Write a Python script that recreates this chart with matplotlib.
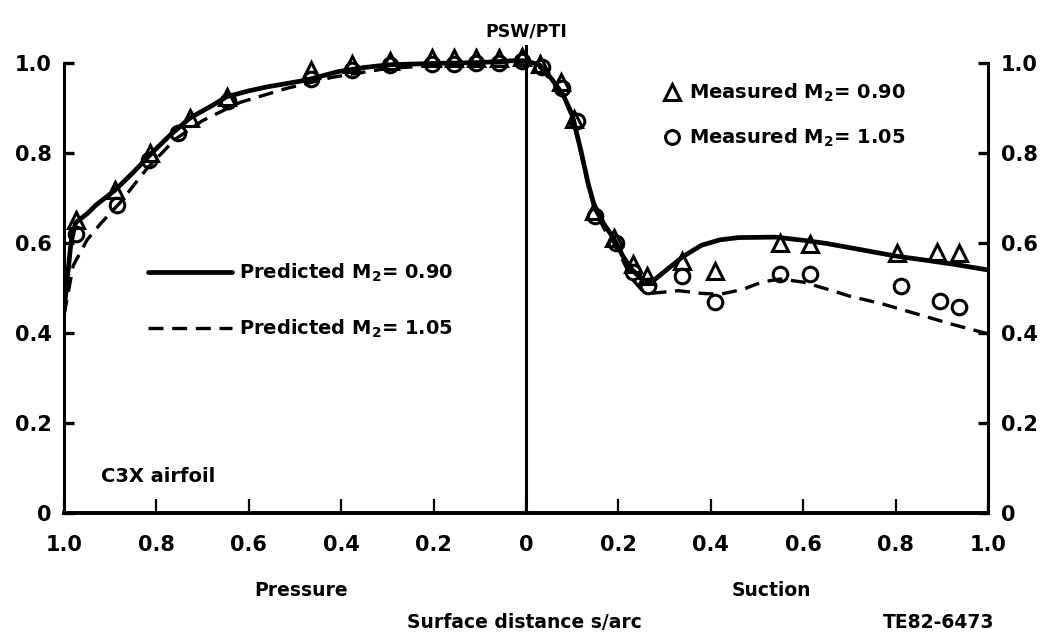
import matplotlib
matplotlib.use("Agg")
import matplotlib.pyplot as plt

plt.rcParams['font.family'] = ['DejaVu Sans']
plt.rcParams['font.weight'] = 'bold'
plt.rcParams['mathtext.fontset'] = 'custom'
plt.rcParams['mathtext.rm'] = 'DejaVu Sans:bold'
plt.rcParams['mathtext.it'] = 'DejaVu Sans:bold'
plt.rcParams['mathtext.bf'] = 'DejaVu Sans:bold'

# ---- data (x < 0: pressure side, x > 0: suction side) ----
pred090_x = [-1.0, -0.985, -0.975, -0.95, -0.93, -0.89, -0.85, -0.81, -0.77, -0.727,
             -0.68, -0.648, -0.60, -0.56, -0.514, -0.475, -0.406, -0.35, -0.297, -0.20,
             -0.10, -0.03, 0.0, 0.03, 0.055, 0.08, 0.10, 0.12, 0.135, 0.15, 0.17, 0.19,
             0.21, 0.23, 0.25, 0.265, 0.28, 0.31, 0.34, 0.38, 0.42, 0.46, 0.54, 0.60,
             0.65, 0.72, 0.80, 0.87, 0.93, 1.0]
pred090_y = [0.45, 0.60, 0.645, 0.665, 0.685, 0.717, 0.757, 0.80, 0.84, 0.878,
             0.905, 0.925, 0.938, 0.947, 0.955, 0.962, 0.981, 0.99, 0.996, 0.999,
             1.001, 1.005, 1.005, 0.995, 0.965, 0.93, 0.885, 0.80, 0.73, 0.675, 0.64, 0.61,
             0.57, 0.54, 0.52, 0.514, 0.52, 0.545, 0.57, 0.595, 0.607, 0.612, 0.613, 0.606,
             0.599, 0.586, 0.571, 0.561, 0.552, 0.54]

pred105_x = [-1.0, -0.98, -0.95, -0.92, -0.88, -0.82, -0.76, -0.70, -0.62, -0.52,
             -0.42, -0.30, -0.20, -0.10, 0.0, 0.03, 0.055, 0.08, 0.10, 0.12, 0.135,
             0.15, 0.17, 0.19, 0.21, 0.23, 0.25, 0.27, 0.33, 0.38, 0.42, 0.47, 0.51,
             0.55, 0.60, 0.65, 0.70, 0.77, 0.84, 0.92, 1.0]
pred105_y = [0.44, 0.55, 0.607, 0.644, 0.688, 0.766, 0.83, 0.872, 0.912, 0.943,
             0.968, 0.988, 0.994, 0.999, 1.002, 0.99, 0.96, 0.925, 0.88, 0.795, 0.725,
             0.67, 0.63, 0.60, 0.56, 0.52, 0.496, 0.488, 0.494, 0.488, 0.486, 0.497, 0.513,
             0.52, 0.513, 0.498, 0.482, 0.465, 0.444, 0.42, 0.398]

meas090_x = [-0.973, -0.889, -0.814, -0.727, -0.647, -0.465, -0.377, -0.294, -0.203,
             -0.156, -0.109, -0.059, -0.008, 0.030, 0.075, 0.103, 0.147, 0.190, 0.232,
             0.262, 0.338, 0.408, 0.549, 0.614, 0.803, 0.889, 0.937]
meas090_y = [0.650, 0.717, 0.800, 0.877, 0.925, 0.984, 0.998, 1.005, 1.010,
             1.010, 1.012, 1.010, 1.014, 0.998, 0.958, 0.875, 0.672, 0.612, 0.553,
             0.527, 0.560, 0.537, 0.600, 0.597, 0.578, 0.580, 0.577]

meas105_x = [-0.973, -0.885, -0.815, -0.753, -0.645, -0.465, -0.377, -0.294, -0.203,
             -0.156, -0.109, -0.059, -0.008, 0.035, 0.078, 0.110, 0.150, 0.195, 0.232,
             0.265, 0.338, 0.410, 0.549, 0.614, 0.811, 0.895, 0.938]
meas105_y = [0.620, 0.685, 0.785, 0.844, 0.915, 0.965, 0.985, 0.995, 0.998,
             0.998, 1.000, 1.000, 1.005, 0.990, 0.945, 0.870, 0.660, 0.600, 0.535,
             0.505, 0.527, 0.468, 0.530, 0.532, 0.505, 0.472, 0.458]

x_ticks = [-1.0, -0.8, -0.6, -0.4, -0.2, 0.0, 0.2, 0.4, 0.6, 0.8, 1.0]
x_ticklabels = ["1.0", "0.8", "0.6", "0.4", "0.2", "0", "0.2", "0.4", "0.6", "0.8", "1.0"]
y_ticks = [0.0, 0.2, 0.4, 0.6, 0.8, 1.0]
y_ticklabels = ["0", "0.2", "0.4", "0.6", "0.8", "1.0"]

# ---- figure ----
fig = plt.figure(figsize=(10.41, 6.37), dpi=100)
ax = fig.add_axes([0.0615, 0.1947, 0.8876, 0.7347])
ax.set_xlim(-1.0, 1.0)
ax.set_ylim(0.0, 1.04)

l1, = ax.plot(pred090_x, pred090_y, color='black', lw=3.4, solid_capstyle='round',
              solid_joinstyle='round')
l2, = ax.plot(pred105_x, pred105_y, color='black', lw=2.4, dashes=(4.5, 2.6))
m1, = ax.plot(meas090_x, meas090_y, ls='none', marker='^', ms=11.5, mfc='none',
              mec='black', mew=2.2)
m2, = ax.plot(meas105_x, meas105_y, ls='none', marker='o', ms=10.5, mfc='none',
              mec='black', mew=2.2)

ax.axvline(0.0, color='black', lw=2.2)

ax.spines['top'].set_visible(False)
ax.spines['left'].set_bounds(0.0, 1.0)
ax.spines['right'].set_bounds(0.0, 1.0)
ax.spines['left'].set_linewidth(2.2)
ax.spines['right'].set_linewidth(2.2)
ax.spines['bottom'].set_linewidth(2.8)

ax.set_xticks(x_ticks)
ax.set_xticklabels(x_ticklabels)
ax.set_yticks(y_ticks)
ax.set_yticklabels(y_ticklabels)
ax.tick_params(axis='x', direction='in', length=10, width=1.6, pad=16,
               labelsize=15)
ax.tick_params(axis='y', direction='in', length=7, width=2.4, pad=9,
               labelsize=15, right=True, labelright=True, labelleft=True)
for lbl in ax.get_xticklabels() + ax.get_yticklabels():
    lbl.set_fontweight('bold')
for tick in ax.yaxis.get_major_ticks():
    tick.label2.set_fontweight('bold')

leg1 = ax.legend([l1, l2], [r'Predicted M$_2$= 0.90', r'Predicted M$_2$= 1.05'],
                 loc='upper left', bbox_to_anchor=(0.091, 0.537), frameon=False,
                 handlelength=4.3, handletextpad=0.4,
                 labelspacing=1.72, borderpad=0, borderaxespad=0,
                 prop={'weight': 'bold', 'size': 14})
ax.add_artist(leg1)
leg2 = ax.legend([m1, m2], [r'Measured M$_2$= 0.90', r'Measured M$_2$= 1.05'],
                 loc='upper left', bbox_to_anchor=(0.648, 0.921), frameon=False,
                 handlelength=1.0, handletextpad=0.35,
                 labelspacing=1.18, borderpad=0, borderaxespad=0, markerscale=0.95,
                 prop={'weight': 'bold', 'size': 14})

ax.text(-0.92, 0.08, 'C3X airfoil', fontsize=14, fontweight='bold',
        ha='left', va='center')

fig.text(0.506, 1 - 31 / 637, 'PSW/PTI', fontsize=12.5, fontweight='bold',
         ha='center', va='center')
fig.text(0.289, 1 - 590 / 637, 'Pressure', fontsize=13.5, fontweight='bold',
         ha='center', va='center')
fig.text(0.7406, 1 - 590 / 637, 'Suction', fontsize=13.5, fontweight='bold',
         ha='center', va='center')
fig.text(0.504, 1 - 622 / 637, 'Surface distance s/arc', fontsize=13.5,
         fontweight='bold', ha='center', va='center')
fig.text(0.902, 1 - 622 / 637, 'TE82-6473', fontsize=13.5, fontweight='bold',
         ha='center', va='center')

fig.savefig('out.png', dpi=100)
